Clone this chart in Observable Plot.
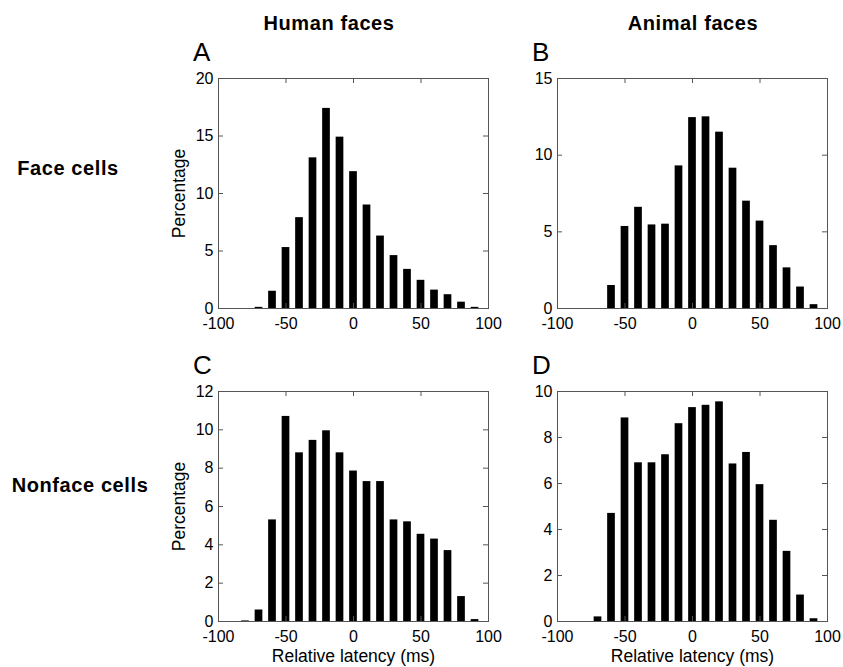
<!DOCTYPE html>
<html>
<head>
<meta charset="utf-8">
<script src="https://cdn.jsdelivr.net/npm/d3@7"></script>
<script src="https://cdn.jsdelivr.net/npm/@observablehq/plot@0.6"></script>
<style>
  html, body { margin: 0; padding: 0; background: #fff; }
  #fig { position: relative; width: 843px; height: 667px; overflow: hidden;
         font-family: "Liberation Sans", Arial, Helvetica, sans-serif; color: #000; }
  .abs { position: absolute; white-space: nowrap; line-height: 1; }
  .coltitle, .rowtitle { font-weight: bold; font-size: 20px; letter-spacing: 0.6px; }
  .coltitle { transform: translateX(-50%); }
  .rowtitle { transform: translateX(-50%); }
  .letter { font-size: 26px; font-weight: normal; }
  .panel { position: absolute; line-height: 0; }
  .panel svg { display: block; }
</style>
</head>
<body>
<div id="fig"></div>
<script>
// ---- data ----
const binCenters = [-80, -70, -60, -50, -40, -30, -20, -10, 0, 10, 20, 30, 40, 50, 60, 70, 80, 90];
const humanFaceCells    = [0, 0.1, 1.5, 5.3, 7.9, 13.1, 17.4, 14.9, 11.9, 9.0, 6.3, 4.6, 3.4, 2.45, 1.6, 1.2, 0.55, 0.1];
const animalFaceCells   = [0, 0, 1.5, 5.35, 6.6, 5.45, 5.5, 9.3, 12.45, 12.5, 11.5, 9.15, 7.0, 5.7, 4.1, 2.65, 1.4, 0.25];
const humanNonfaceCells = [0.03, 0.6, 5.3, 10.7, 8.8, 9.45, 9.95, 8.8, 7.85, 7.3, 7.3, 5.3, 5.2, 4.55, 4.3, 3.7, 1.3, 0.1];
const animalNonfaceCells= [0, 0.2, 4.7, 8.85, 6.9, 6.9, 7.25, 8.6, 9.3, 9.4, 9.55, 6.85, 7.35, 5.95, 4.4, 3.05, 1.15, 0.12];

const xTicks = [-100, -50, 0, 50, 100];
const yTicksA = [0, 5, 10, 15, 20];
const yTicksB = [0, 5, 10, 15];
const yTicksC = [0, 2, 4, 6, 8, 10, 12];
const yTicksD = [0, 2, 4, 6, 8, 10];

const columnTitles = ["Human faces", "Animal faces"];
const rowTitles = ["Face cells", "Nonface cells"];
const panelLetters = ["A", "B", "C", "D"];
const yLabel = "Percentage";
const xLabel = "Relative latency (ms)";

// ---- layout ----
const fig = document.getElementById("fig");
const W = 270, H = 230, mL = 60, mR = 16, mT = 10;
const tickLen = 5;
const barHalf = 2.85;
const frameColor = "#555";
const fontFamily = "'Liberation Sans', Arial, Helvetica, sans-serif";

const panels = [
  {letter: panelLetters[0], values: humanFaceCells,    yTicks: yTicksA, left: 158, top: 68,  yLab: true,  xLab: false},
  {letter: panelLetters[1], values: animalFaceCells,   yTicks: yTicksB, left: 497, top: 68,  yLab: false, xLab: false},
  {letter: panelLetters[2], values: humanNonfaceCells, yTicks: yTicksC, left: 158, top: 381, yLab: true,  xLab: true},
  {letter: panelLetters[3], values: animalNonfaceCells,yTicks: yTicksD, left: 497, top: 381, yLab: false, xLab: true}
];

function makePanel(p) {
  const data = binCenters.map((x, i) => ({x, v: p.values[i]}));
  const mB = p.xLab ? 46 : 30;
  const yMax = p.yTicks[p.yTicks.length - 1];
  const marks = [
    Plot.rect(data, {x1: d => d.x - barHalf, x2: d => d.x + barHalf, y1: 0, y2: "v", fill: "#000"}),
    Plot.ruleX(xTicks, {x: d => d, insetTop: H - tickLen, stroke: frameColor}),
    Plot.ruleX(xTicks, {x: d => d, insetBottom: H - tickLen, stroke: frameColor}),
    Plot.ruleY(p.yTicks, {y: d => d, insetRight: W - tickLen, stroke: frameColor}),
    Plot.ruleY(p.yTicks, {y: d => d, insetLeft: W - tickLen, stroke: frameColor}),
    Plot.frame({stroke: frameColor}),
    Plot.axisX({ticks: xTicks, tickSize: 0, tickPadding: 9, fontSize: 16, tickFormat: d => String(d), label: null}),
    Plot.axisY({ticks: p.yTicks, tickSize: 0, tickPadding: 5, fontSize: 16, tickFormat: d => String(d), label: null})
  ];
  if (p.yLab) marks.push(Plot.axisY({ticks: [], tickSize: 0, label: yLabel, labelAnchor: "center", labelArrow: false, labelOffset: 46, fontSize: 17.5}));
  if (p.xLab) marks.push(Plot.axisX({ticks: [], tickSize: 0, label: xLabel, labelAnchor: "center", labelArrow: false, labelOffset: 40, fontSize: 17.5}));
  const svg = Plot.plot({
    width: mL + W + mR,
    height: mT + H + mB,
    marginLeft: mL, marginRight: mR, marginTop: mT, marginBottom: mB,
    x: {domain: [-100, 100]},
    y: {domain: [0, yMax]},
    style: {fontFamily, fontSize: "16px", color: "#000", background: "transparent", overflow: "visible"},
    marks
  });
  const wrap = document.createElement("div");
  wrap.className = "panel";
  wrap.style.left = p.left + "px";
  wrap.style.top = p.top + "px";
  wrap.appendChild(svg);
  fig.appendChild(wrap);

  const L = document.createElement("div");
  L.className = "abs letter";
  L.textContent = p.letter;
  L.style.left = (p.left + 35) + "px";
  L.style.top = (p.top - 29) + "px";
  fig.appendChild(L);
}
panels.forEach(makePanel);

function addText(cls, text, x, y) {
  const d = document.createElement("div");
  d.className = "abs " + cls;
  d.textContent = text;
  d.style.left = x + "px";
  d.style.top = y + "px";
  fig.appendChild(d);
}
addText("coltitle", columnTitles[0], 329, 13);
addText("coltitle", columnTitles[1], 693, 13);
addText("rowtitle", rowTitles[0], 68, 158);
addText("rowtitle", rowTitles[1], 80, 475);
</script>
</body>
</html>
